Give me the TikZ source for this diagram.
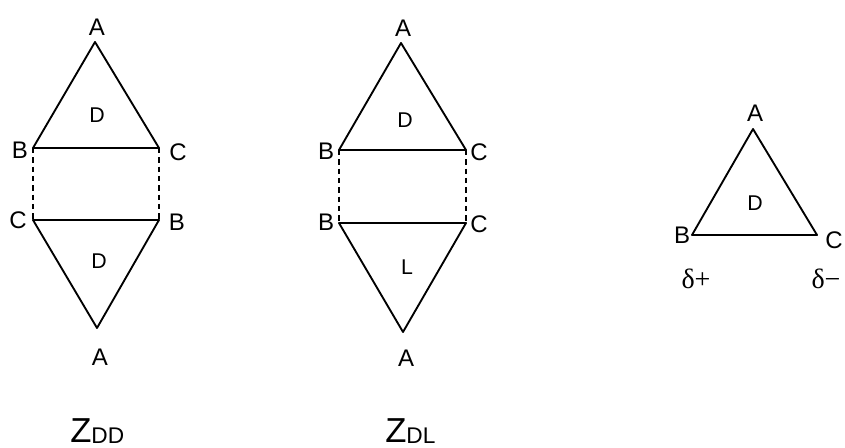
\documentclass[tikz,border=0pt]{standalone}
\usepackage{fontspec}
\setmainfont{Liberation Sans}
\newfontfamily\grk{Liberation Serif}
\begin{document}
\begin{tikzpicture}[x=0.75pt,y=-0.75pt,
  edge/.style={line width=1.4pt,line join=round},
  dashedge/.style={line width=1.3pt,dash pattern=on 4pt off 3pt},
  vlab/.style={inner sep=0pt,font=\fontsize{18}{18}\selectfont},
  flab/.style={inner sep=0pt,font=\fontsize{16}{16}\selectfont},
  dlab/.style={inner sep=0pt,font=\fontsize{21}{21}\selectfont\grk},
  zlab/.style={inner sep=0pt,anchor=base west}]
\useasboundingbox (0,0) rectangle (845,448);
% ---------- Z_DD ----------
\coordinate (l-A1) at (95,42);
\coordinate (l-B1) at (33,148);
\coordinate (l-C1) at (159,148);
\coordinate (l-C2) at (33,220);
\coordinate (l-B2) at (159,220);
\coordinate (l-A2) at (97,328);
\draw[edge] (l-B1) -- (l-A1) -- (l-C1) -- cycle;
\draw[edge] (l-C2) -- (l-B2) -- (l-A2) -- cycle;
\draw[dashedge] (l-B1) -- (l-C2);
\draw[dashedge] (l-C1) -- (l-B2);
\node[vlab] (l-tA1) at (97,27) {A};
\node[vlab] (l-tB1) at (20,150) {B};
\node[vlab] (l-tC1) at (178,152) {C};
\node[vlab] (l-tC2) at (18,220) {C};
\node[vlab] (l-tB2) at (177,222) {B};
\node[vlab] (l-tA2) at (100,357) {A};
\node[flab] (l-tD1) at (97,115) {D};
\node[flab] (l-tD2) at (99,261) {D};
\node[zlab] (l-Z) at (70,442) {\fontsize{26}{26}\selectfont Z\fontsize{17}{17}\selectfont\raisebox{-1pt}{DD}};
% ---------- Z_DL ----------
\coordinate (m-A1) at (401,43);
\coordinate (m-B1) at (339,150);
\coordinate (m-C1) at (466,150);
\coordinate (m-B2) at (339,223);
\coordinate (m-C2) at (466,223);
\coordinate (m-A2) at (403,332);
\draw[edge] (m-B1) -- (m-A1) -- (m-C1) -- cycle;
\draw[edge] (m-B2) -- (m-C2) -- (m-A2) -- cycle;
\draw[dashedge] (m-B1) -- (m-B2);
\draw[dashedge] (m-C1) -- (m-C2);
\node[vlab] (m-tA1) at (403,28) {A};
\node[vlab] (m-tB1) at (326,151) {B};
\node[vlab] (m-tC1) at (479,152) {C};
\node[vlab] (m-tB2) at (326,222) {B};
\node[vlab] (m-tC2) at (479,224) {C};
\node[vlab] (m-tA2) at (406,358) {A};
\node[flab] (m-tD) at (405,120) {D};
\node[flab] (m-tL) at (407,267) {L};
\node[zlab] (m-Z) at (385,442) {\fontsize{26}{26}\selectfont Z\fontsize{17}{17}\selectfont\raisebox{-1pt}{DL}};
% ---------- single triangle ----------
\coordinate (r-A) at (753,129);
\coordinate (r-B) at (692,235);
\coordinate (r-C) at (817,235);
\draw[edge] (r-B) -- (r-A) -- (r-C) -- cycle;
\node[vlab] (r-tA) at (755,113) {A};
\node[vlab] (r-tB) at (682,235) {B};
\node[vlab] (r-tC) at (834,240) {C};
\node[flab] (r-tD) at (755,203) {D};
\node[dlab] (r-dp) at (696,279) {δ+};
\node[dlab] (r-dm) at (826,279) {δ−};
\end{tikzpicture}
\end{document}
